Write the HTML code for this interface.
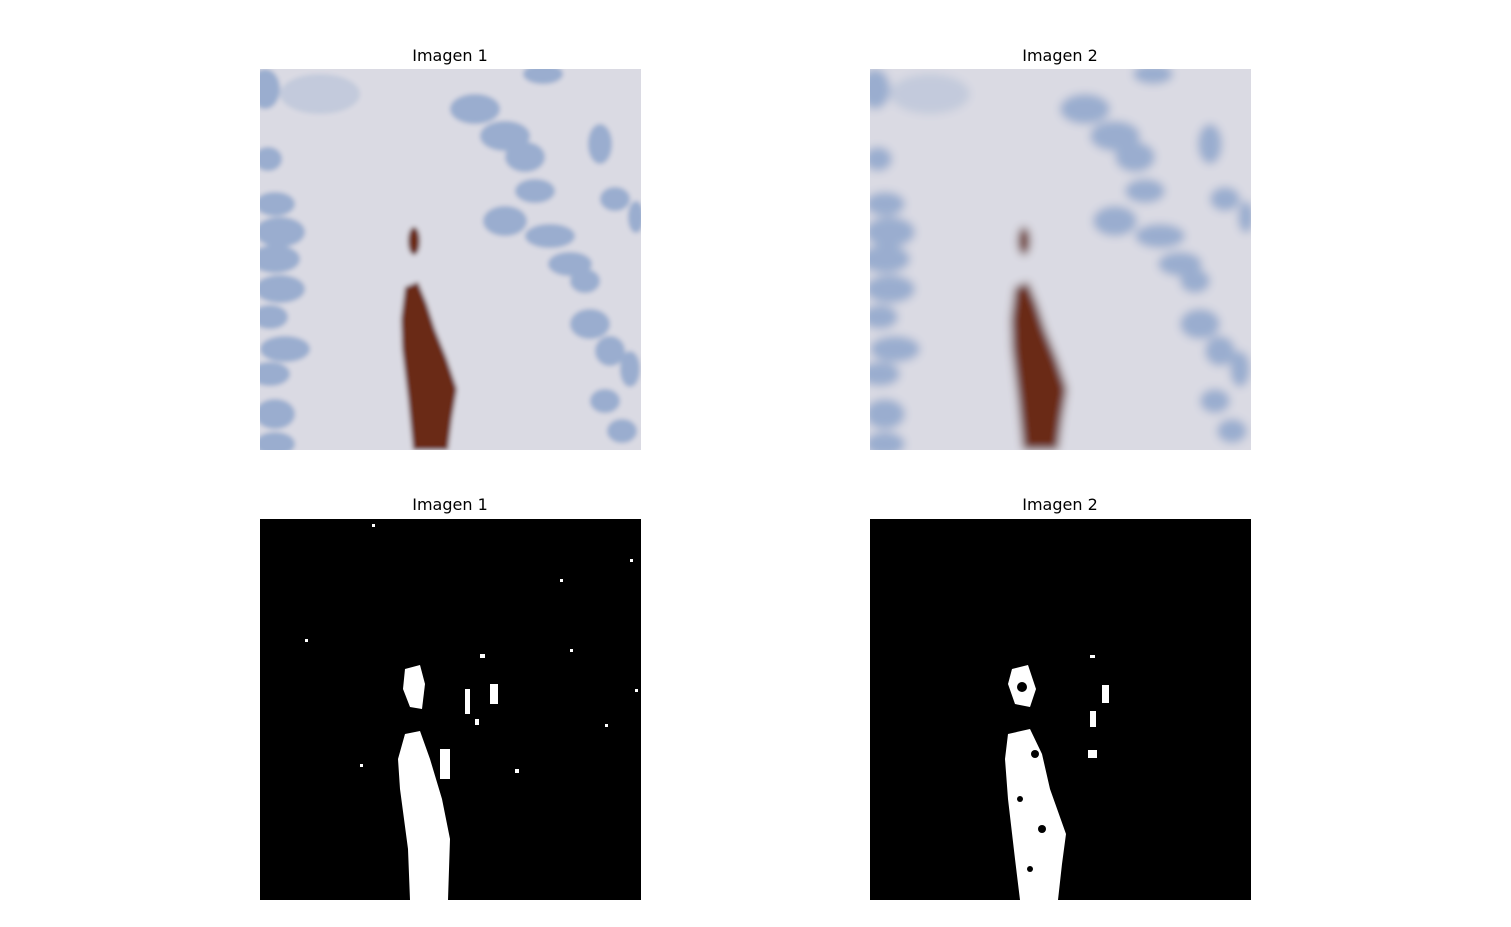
<!DOCTYPE html>
<html><head><meta charset="utf-8"><style>
html,body{margin:0;padding:0;background:#fff;width:1511px;height:927px;overflow:hidden}
svg{display:block}
text{font-family:"DejaVu Sans","Liberation Sans",sans-serif;font-size:16px;fill:#000}
</style></head><body>
<svg width="1511" height="927">
<defs>
<filter id="blur1" x="-10%" y="-10%" width="120%" height="120%"><feGaussianBlur stdDeviation="2.5"/></filter>
<filter id="blur2" x="-10%" y="-10%" width="120%" height="120%"><feGaussianBlur stdDeviation="4.5"/></filter>
<g id="tissue">
  <rect x="-20" y="-20" width="421" height="421" fill="#dadae3"/>
  <g fill="#8fa6cc" opacity="0.85">
    <ellipse cx="60" cy="25" rx="40" ry="20" opacity="0.35"/>
    <ellipse cx="5" cy="20" rx="15" ry="20"/>
    <ellipse cx="8" cy="90" rx="14" ry="12"/>
    <ellipse cx="15" cy="135" rx="20" ry="12"/>
    <ellipse cx="20" cy="163" rx="25" ry="15"/>
    <ellipse cx="15" cy="190" rx="25" ry="14"/>
    <ellipse cx="20" cy="220" rx="25" ry="14"/>
    <ellipse cx="10" cy="248" rx="18" ry="12"/>
    <ellipse cx="25" cy="280" rx="25" ry="13"/>
    <ellipse cx="10" cy="305" rx="20" ry="12"/>
    <ellipse cx="15" cy="345" rx="20" ry="15"/>
    <ellipse cx="15" cy="375" rx="20" ry="12"/>
    <ellipse cx="215" cy="40" rx="25" ry="15"/>
    <ellipse cx="245" cy="67" rx="25" ry="15"/>
    <ellipse cx="265" cy="88" rx="20" ry="15"/>
    <ellipse cx="275" cy="122" rx="20" ry="12"/>
    <ellipse cx="340" cy="75" rx="12" ry="20"/>
    <ellipse cx="355" cy="130" rx="15" ry="12"/>
    <ellipse cx="376" cy="148" rx="8" ry="16"/>
    <ellipse cx="245" cy="152" rx="22" ry="15"/>
    <ellipse cx="290" cy="167" rx="25" ry="12"/>
    <ellipse cx="310" cy="195" rx="22" ry="12"/>
    <ellipse cx="325" cy="212" rx="15" ry="12"/>
    <ellipse cx="330" cy="255" rx="20" ry="15"/>
    <ellipse cx="350" cy="282" rx="15" ry="15"/>
    <ellipse cx="370" cy="300" rx="10" ry="18"/>
    <ellipse cx="345" cy="332" rx="15" ry="12"/>
    <ellipse cx="362" cy="362" rx="15" ry="12"/>
    <ellipse cx="283" cy="5" rx="20" ry="10"/>
  </g>
  <path d="M145,218 L158,213 L167,235 L175,260 L187,290 L197,320 L192,350 L188,381 L153,381 L148,330 L142,280 L141,250Z" fill="#6a2a18"/>
  <ellipse cx="154" cy="172" rx="6" ry="14" fill="#6a2a18"/>
</g>
</defs>
<text x="450" y="61" text-anchor="middle">Imagen 1</text>
<text x="1060" y="61" text-anchor="middle">Imagen 2</text>
<text x="450" y="510" text-anchor="middle">Imagen 1</text>
<text x="1060" y="510" text-anchor="middle">Imagen 2</text>

<svg x="260" y="69" width="381" height="381">
  <g filter="url(#blur1)"><use href="#tissue"/></g>
</svg>
<svg x="870" y="69" width="381" height="381">
  <g filter="url(#blur2)"><use href="#tissue"/></g>
</svg>

<g transform="translate(260,519)">
  <rect width="381" height="381" fill="#000"/>
  <g fill="#fff">
    <path d="M145,150 L160,146 L165,165 L162,190 L150,188 L143,170Z"/>
    <path d="M145,215 L160,212 L170,240 L182,280 L190,320 L188,381 L150,381 L148,330 L140,270 L138,240Z"/>
    <rect x="220" y="135" width="5" height="4"/><rect x="230" y="165" width="8" height="20"/>
    <rect x="205" y="170" width="5" height="25"/><rect x="215" y="200" width="4" height="6"/>
    <rect x="255" y="250" width="4" height="4"/><rect x="112" y="5" width="3" height="3"/>
    <rect x="300" y="60" width="3" height="3"/><rect x="370" y="40" width="3" height="3"/>
    <rect x="45" y="120" width="3" height="3"/><rect x="100" y="245" width="3" height="3"/>
    <rect x="375" y="170" width="3" height="3"/><rect x="345" y="205" width="3" height="3"/>
    <rect x="310" y="130" width="3" height="3"/><rect x="180" y="230" width="10" height="30"/>
  </g>
</g>
<g transform="translate(870,519)">
  <rect width="381" height="381" fill="#000"/>
  <g fill="#fff">
    <path d="M142,150 L158,146 L166,170 L160,188 L145,185 L138,165Z"/>
    <path d="M138,215 L160,210 L172,235 L180,270 L196,315 L192,345 L188,381 L150,381 L145,340 L138,280 L135,240Z"/>
    <rect x="232" y="166" width="7" height="18"/>
    <rect x="220" y="192" width="6" height="16"/>
    <rect x="218" y="231" width="9" height="8"/>
    <rect x="220" y="136" width="5" height="3"/>
  </g>
  <g fill="#000">
    <circle cx="152" cy="168" r="5"/><circle cx="165" cy="235" r="4"/>
    <circle cx="150" cy="280" r="3"/><circle cx="172" cy="310" r="4"/><circle cx="160" cy="350" r="3"/>
  </g>
</g>
</svg>
</body></html>
